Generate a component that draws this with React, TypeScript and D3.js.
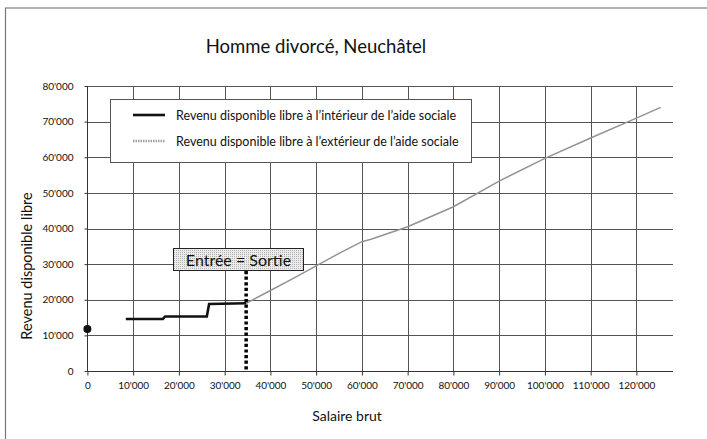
import React, { useRef, useEffect } from "react";
import * as d3 from "d3";

// salaire brut (CHF) / revenu disponible libre (CHF)
const salaryInside = [8400, 16500, 17000, 26100, 26600, 34700];
const incomeInside = [14600, 14600, 15300, 15300, 18800, 19000];
const salaryOutside = [34700, 40000, 45000, 50000, 55000, 60000, 62000, 70000, 80000, 90000, 100000, 110000, 120000, 125300];
const incomeOutside = [19000, 22600, 26000, 29500, 33000, 36300, 37000, 40500, 46100, 53300, 59700, 65400, 71000, 74000];
const zeroSalaryIncome = [11800];
const entryExitSalary = 34700;

const xTicks = [0, 10000, 20000, 30000, 40000, 50000, 60000, 70000, 80000, 90000, 100000, 110000, 120000];
const yTicks = [0, 10000, 20000, 30000, 40000, 50000, 60000, 70000, 80000];

const legendLabels = [
  "Revenu disponible libre à l’intérieur de l’aide sociale",
  "Revenu disponible libre à l’extérieur de l’aide sociale",
];

const FONT = "Lato, 'Open Sans', sans-serif";
const fmt = (n: number) => (n === 0 ? "0" : d3.format(",")(n).replace(/,/g, "'"));

const App = () => {
  const ref = useRef<SVGSVGElement>(null);

  useEffect(() => {
    const svg = d3.select(ref.current);
    svg.selectAll("*").remove();

    const x = d3.scaleLinear().domain([0, 128000]).range([87.4, 673]);
    const y = d3.scaleLinear().domain([0, 80000]).range([371, 86]);

    const defs = svg.append("defs");
    const pat = defs
      .append("pattern")
      .attr("id", "stipple")
      .attr("width", 2)
      .attr("height", 2)
      .attr("patternUnits", "userSpaceOnUse");
    pat.append("rect").attr("width", 2).attr("height", 2).attr("fill", "#ececec");
    pat.append("rect").attr("width", 1).attr("height", 1).attr("fill", "#b0b0b0");

    // page frame
    svg.append("line").attr("x1", 5).attr("x2", 707).attr("y1", 8).attr("y2", 8).attr("stroke", "#666").attr("stroke-width", 1.2);
    svg.append("line").attr("x1", 5.5).attr("x2", 5.5).attr("y1", 8).attr("y2", 439).attr("stroke", "#777").attr("stroke-width", 1.2);

    // grid
    const grid = svg.append("g").attr("stroke", "#555").attr("stroke-width", 1);
    grid
      .selectAll("line.h")
      .data(yTicks.filter((d) => d > 0))
      .enter()
      .append("line")
      .attr("x1", x(0))
      .attr("x2", x(128000))
      .attr("y1", (d) => Math.round(y(d)) + 0.5)
      .attr("y2", (d) => Math.round(y(d)) + 0.5);
    grid
      .selectAll("line.v")
      .data(xTicks.filter((d) => d > 0))
      .enter()
      .append("line")
      .attr("x1", (d) => Math.round(x(d)) + 0.5)
      .attr("x2", (d) => Math.round(x(d)) + 0.5)
      .attr("y1", y(80000))
      .attr("y2", y(0));

    // axes
    const xAxis = svg
      .append("g")
      .attr("transform", `translate(0, ${Math.round(y(0)) + 0.5})`)
      .call(d3.axisBottom(x).tickValues(xTicks).tickFormat((d) => fmt(+d)).tickSize(4).tickPadding(6));
    xAxis.select(".domain").attr("stroke", "#333").attr("d", `M${x(0)},0H${x(128000)}`);
    xAxis.selectAll("line").attr("stroke", "#333");
    xAxis.selectAll("text").attr("font-family", FONT).attr("font-size", 10).attr("fill", "#111");

    const yAxis = svg
      .append("g")
      .attr("transform", `translate(${Math.round(x(0)) + 0.5}, 0)`)
      .call(d3.axisLeft(y).tickValues(yTicks).tickFormat((d) => fmt(+d)).tickSize(3).tickPadding(11));
    yAxis.select(".domain").attr("stroke", "#333").attr("d", `M0,${y(80000)}V${y(0)}`);
    yAxis.selectAll("line").attr("stroke", "#333");
    yAxis.selectAll("text").attr("font-family", FONT).attr("font-size", 10).attr("fill", "#111");

    // outside social aid
    const outsidePts: [number, number][] = salaryOutside.map((s, i) => [x(s), y(incomeOutside[i])]);
    svg
      .append("path")
      .attr("d", d3.line()(outsidePts))
      .attr("fill", "none")
      .attr("stroke", "#939393")
      .attr("stroke-width", 1.5);

    // inside social aid
    const insidePts: [number, number][] = salaryInside.map((s, i) => [x(s), y(incomeInside[i])]);
    svg
      .append("path")
      .attr("d", d3.line()(insidePts))
      .attr("fill", "none")
      .attr("stroke", "#111")
      .attr("stroke-width", 2.6);

    // point at salary 0
    svg
      .selectAll("circle.zero")
      .data(zeroSalaryIncome)
      .enter()
      .append("circle")
      .attr("cx", x(0))
      .attr("cy", (d) => y(d))
      .attr("r", 4)
      .attr("fill", "#111");

    // entry = exit marker
    svg
      .append("line")
      .attr("x1", x(entryExitSalary))
      .attr("x2", x(entryExitSalary))
      .attr("y1", 271)
      .attr("y2", y(0) - 1)
      .attr("stroke", "#000")
      .attr("stroke-width", 3.5)
      .attr("stroke-dasharray", "3.2,2.4");

    const box = svg.append("g");
    box
      .append("rect")
      .attr("x", 173.5)
      .attr("y", 248.5)
      .attr("width", 130)
      .attr("height", 22)
      .attr("fill", "url(#stipple)")
      .attr("stroke", "#222")
      .attr("stroke-width", 1);
    box
      .append("text")
      .attr("x", 238.5)
      .attr("y", 265.5)
      .attr("text-anchor", "middle")
      .attr("font-family", FONT)
      .attr("font-size", 16)
      .attr("fill", "#111")
      .text("Entrée = Sortie");

    // legend
    const legend = svg.append("g");
    legend
      .append("rect")
      .attr("x", 110.5)
      .attr("y", 99.5)
      .attr("width", 361)
      .attr("height", 63)
      .attr("fill", "#fff")
      .attr("stroke", "#555")
      .attr("stroke-width", 1);
    const styles = [
      { stroke: "#111", width: 2.6, dash: null },
      { stroke: "#a0a0a0", width: 2.6, dash: "1.5,1" },
    ];
    legendLabels.forEach((label, i) => {
      const ly = 115 + i * 26;
      legend
        .append("line")
        .attr("x1", 133)
        .attr("x2", 165)
        .attr("y1", ly)
        .attr("y2", ly)
        .attr("stroke", styles[i].stroke)
        .attr("stroke-width", styles[i].width)
        .attr("stroke-dasharray", styles[i].dash);
      legend
        .append("text")
        .attr("x", 176)
        .attr("y", ly + 4.5)
        .attr("font-family", FONT)
        .attr("font-size", 12.5)
        .attr("fill", "#111")
        .text(label);
    });

    // titles
    svg
      .append("text")
      .attr("x", 316)
      .attr("y", 53)
      .attr("text-anchor", "middle")
      .attr("font-family", FONT)
      .attr("font-size", 18.5)
      .attr("fill", "#111")
      .text("Homme divorcé, Neuchâtel");
    svg
      .append("text")
      .attr("x", 347)
      .attr("y", 421)
      .attr("text-anchor", "middle")
      .attr("font-family", FONT)
      .attr("font-size", 14)
      .attr("fill", "#111")
      .text("Salaire brut");
    svg
      .append("text")
      .attr("transform", "translate(32, 266) rotate(-90)")
      .attr("text-anchor", "middle")
      .attr("font-family", FONT)
      .attr("font-size", 14.5)
      .attr("fill", "#111")
      .text("Revenu disponible libre");
  }, []);

  return (
    <div>
      <svg
        ref={ref}
        width={707}
        height={439}
        style={{ position: "absolute", left: 0, top: 0, background: "#fff" }}
      ></svg>
    </div>
  );
};

export default App;
